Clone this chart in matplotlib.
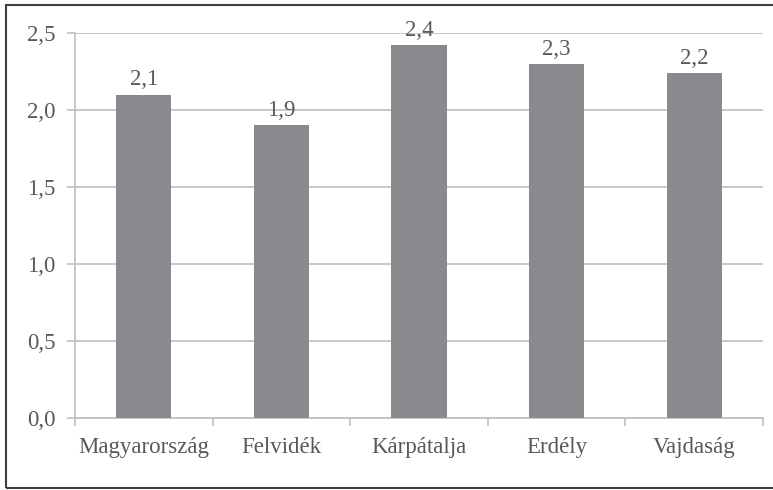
#!/usr/bin/env python3
import matplotlib
matplotlib.use('Agg')
import matplotlib.pyplot as plt
import matplotlib.ticker as ticker
import matplotlib.patches as mpatches

# data
REGIONS = ['Magyarország', 'Felvidék', 'Kárpátalja', 'Erdély', 'Vajdaság']
VALUES = [2.1, 1.9, 2.42, 2.3, 2.24]
YTICKS = [0.0, 0.5, 1.0, 1.5, 2.0, 2.5]

BAR_COLOR = '#8a8a8e'
GRID_COLOR = '#bfbfbf'
TEXT_COLOR = '#595959'
FONT_SIZE = 16.5

plt.rcParams['font.family'] = ['Liberation Serif', 'DejaVu Serif']

def comma(v, pos=None):
    return f'{v:.1f}'.replace('.', ',')

fig = plt.figure(figsize=(7.73, 4.90), dpi=100)
ax = fig.add_axes([75/773, 1 - 418/490, (763 - 75)/773, (418 - 33)/490])

x = range(len(REGIONS))
ax.bar(x, VALUES, width=0.4, color=BAR_COLOR, zorder=3)
for xi, v in zip(x, VALUES):
    ax.annotate(comma(v), (xi, v), xytext=(0, 3), textcoords='offset points',
                ha='center', va='bottom', fontsize=FONT_SIZE, color=TEXT_COLOR)

ax.set_xlim(-0.5, len(REGIONS) - 0.5)
ax.set_ylim(0, 2.5)
ax.set_yticks(YTICKS)
ax.yaxis.set_major_formatter(ticker.FuncFormatter(comma))
ax.set_xticks(list(x))
ax.set_xticklabels(REGIONS)
# category boundary ticks on the x axis
ax.set_xticks([i - 0.5 for i in range(len(REGIONS) + 1)], minor=True)
ax.tick_params(axis='x', which='major', length=0, pad=14, labelsize=FONT_SIZE, colors=TEXT_COLOR)
ax.tick_params(axis='x', which='minor', length=6, color=GRID_COLOR, width=1.2)
ax.tick_params(axis='y', length=6, color=GRID_COLOR, width=1.2, labelsize=FONT_SIZE,
               labelcolor=TEXT_COLOR, pad=8)

ax.grid(True, axis='y', color=GRID_COLOR, linewidth=1.2, zorder=0)
for s in ('top', 'right'):
    ax.spines[s].set_visible(False)
for s in ('left', 'bottom'):
    ax.spines[s].set_color(GRID_COLOR)
    ax.spines[s].set_linewidth(1.2)

# frame around the whole picture (no right edge visible)
fig.add_artist(mpatches.Rectangle((6/773, 1 - 488/490), 1.0, (488 - 5)/490,
                                  transform=fig.transFigure, fill=False,
                                  edgecolor='#404040', linewidth=1.5))

fig.savefig('out.png', dpi=100)
